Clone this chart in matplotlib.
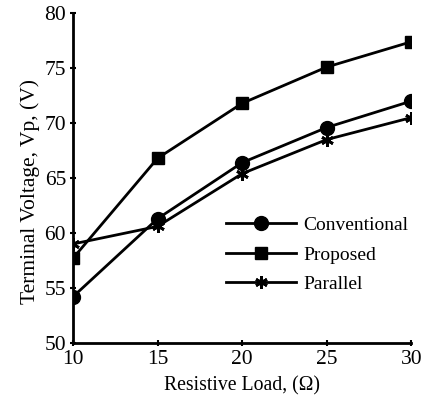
import numpy as np
from matplotlib import pyplot as plt

plt.rcParams['font.family'] = ['Liberation Serif', 'DejaVu Serif']

load = [10, 15, 20, 25, 30]
conventional = [54.2, 61.3, 66.4, 69.6, 72.0]
proposed = [57.7, 66.8, 71.8, 75.1, 77.4]
parallel = [59.0, 60.6, 65.4, 68.5, 70.5]

fig = plt.figure(figsize=(4.27, 4.01), dpi=100)
ax = fig.add_axes([0.171, 0.145, 0.792, 0.822])

ax.plot(load, conventional, color='black', lw=2, marker='o', ms=10, label='Conventional')
ax.plot(load, proposed, color='black', lw=2, marker='s', ms=8, label='Proposed')
ax.plot(load, parallel, color='black', lw=2, marker=(6, 2, 0), ms=9, mew=2, label='Parallel')

ax.set_xlim(10, 30)
ax.set_ylim(50, 80)
ax.set_xticks([10, 15, 20, 25, 30])
ax.set_yticks([50, 55, 60, 65, 70, 75, 80])
for s in ['top', 'right']:
    ax.spines[s].set_visible(False)
for s in ['left', 'bottom']:
    ax.spines[s].set_linewidth(2)
ax.tick_params(direction='inout', length=4, width=1.5, labelsize=15.5, pad=3)

ax.set_xlabel('Resistive Load, (Ω)', fontsize=14.2)
ax.set_ylabel('Terminal Voltage, Vp, (V)', fontsize=15.5)
ax.xaxis.set_label_coords(0.5, -0.1)
ax.yaxis.set_label_coords(-0.098, 0.46)

ax.legend(loc='upper left', bbox_to_anchor=(0.40, 0.436), frameon=False, fontsize=14,
          handlelength=3.6, handletextpad=0.4, labelspacing=0.6)

fig.savefig('out.png', dpi=100)
